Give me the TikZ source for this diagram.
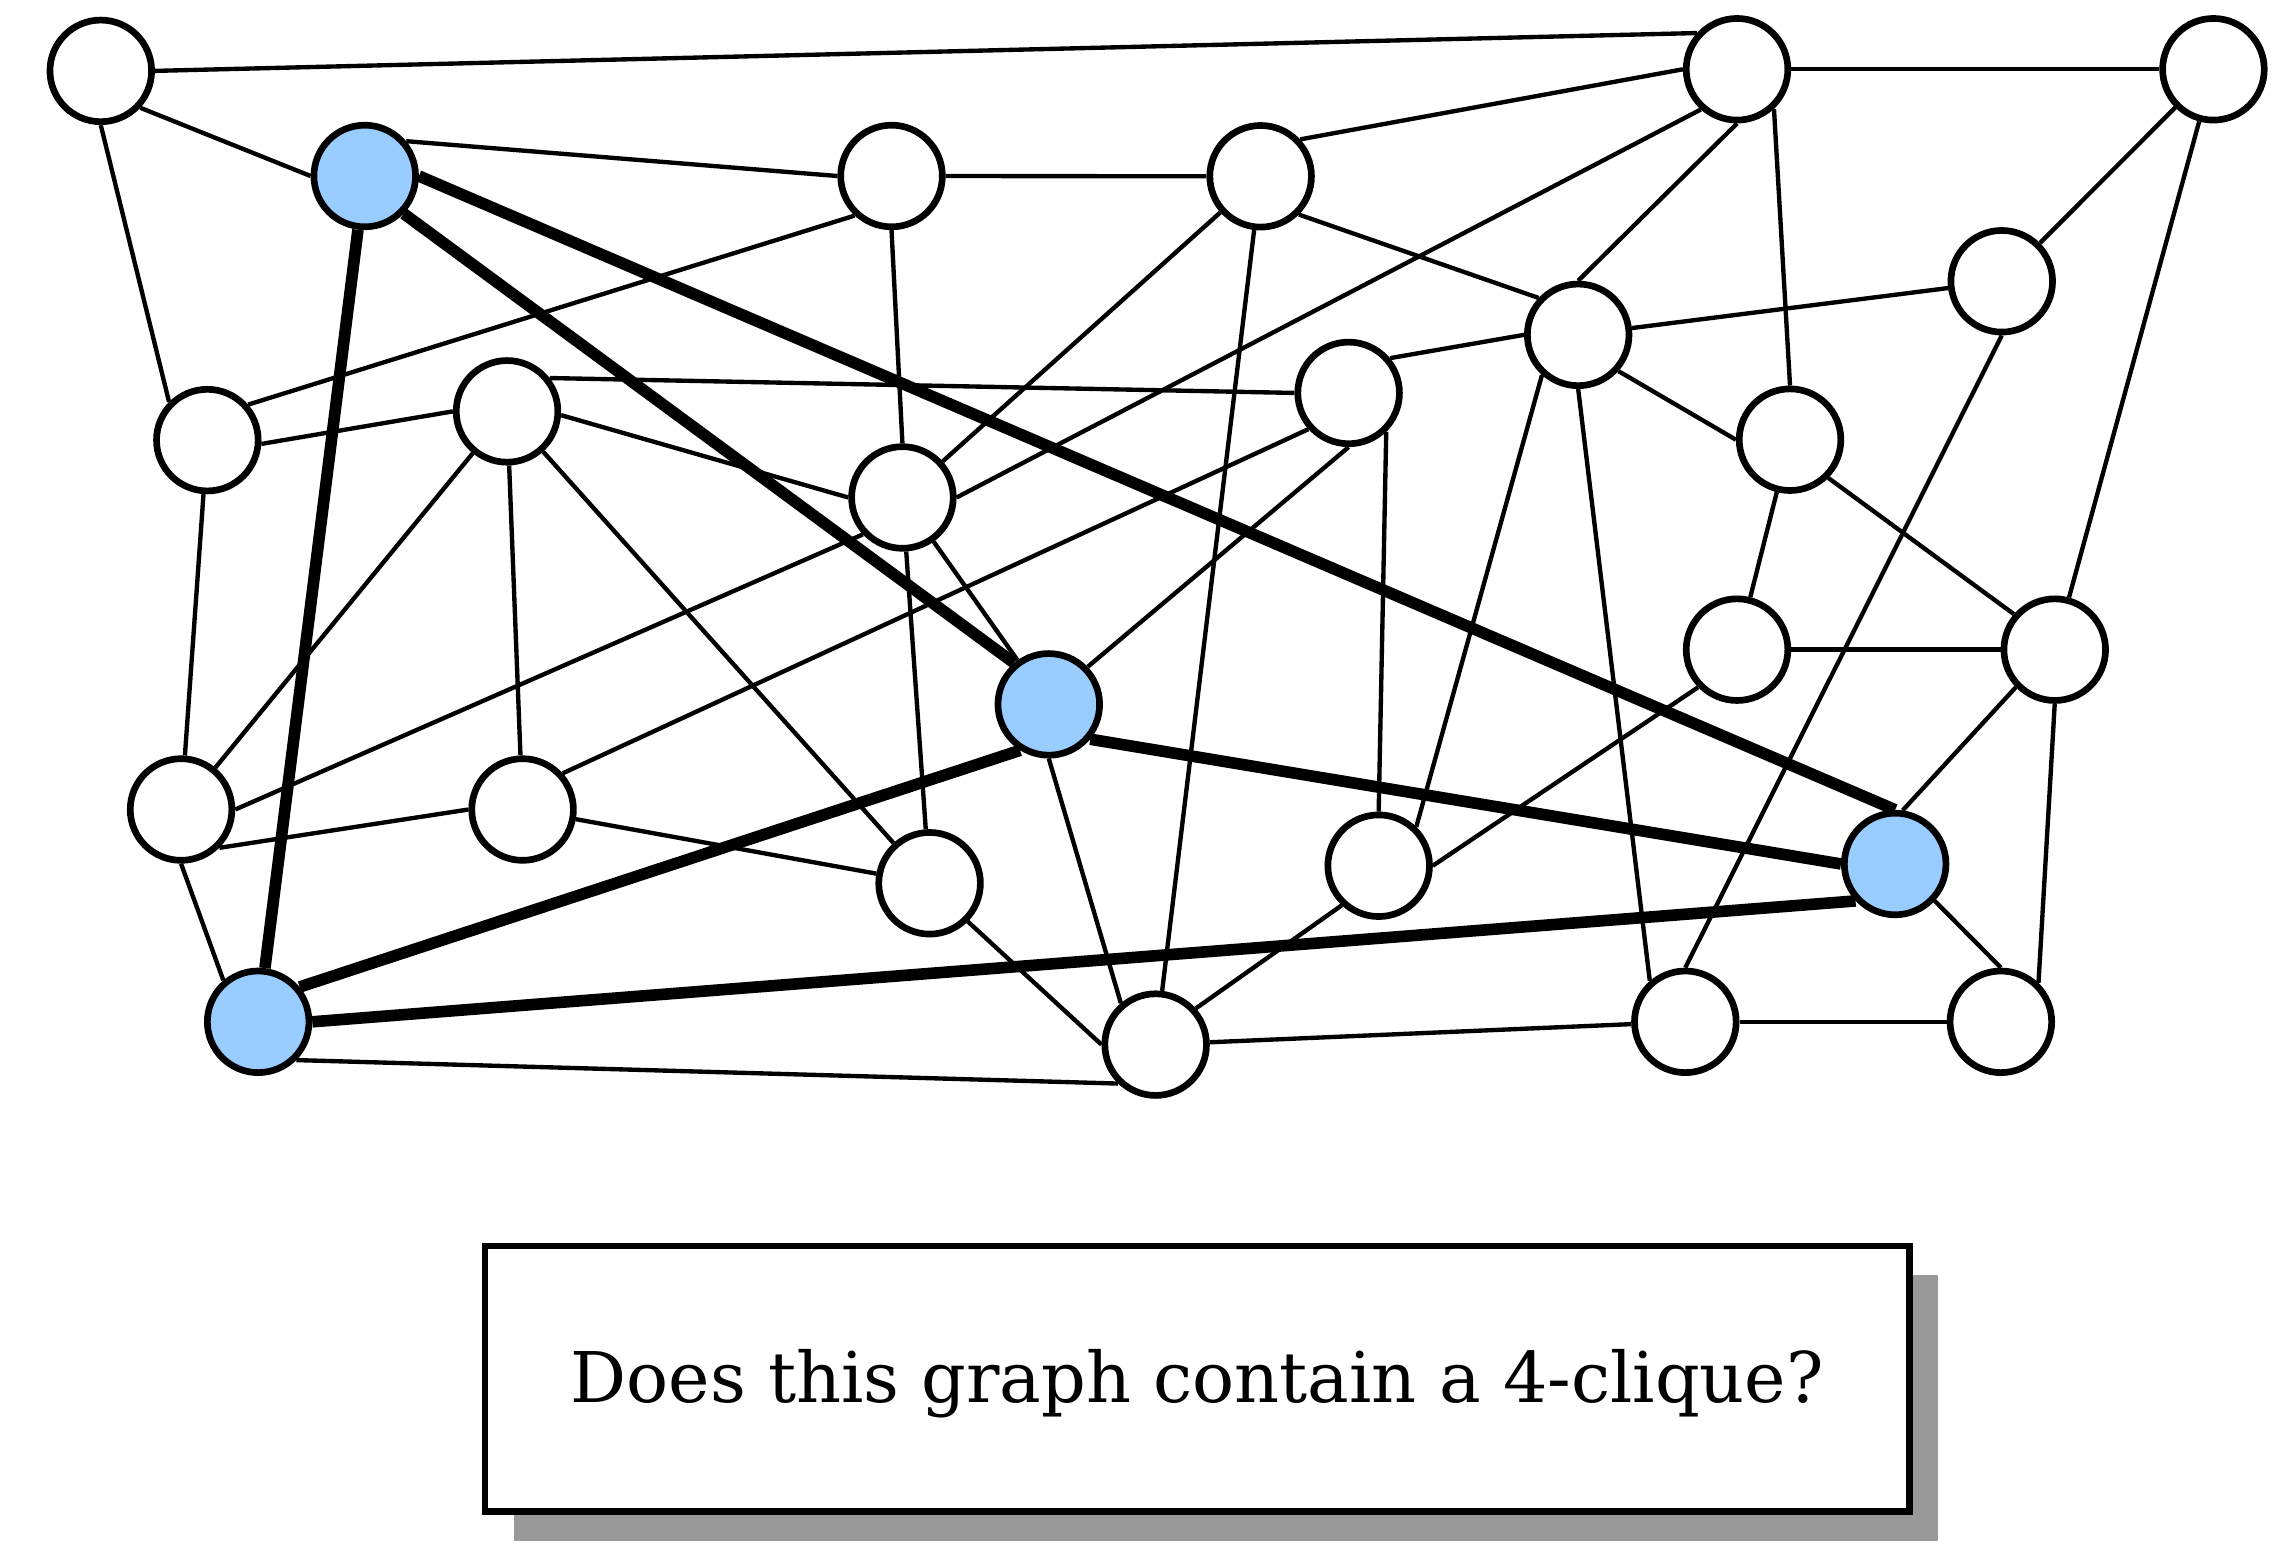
\documentclass[tikz,border=0pt]{standalone}
\usepackage{fontspec}
\setmainfont{DejaVu Serif}
\usepackage{tikz}
\usetikzlibrary{backgrounds,shadows}
\definecolor{cliqueblue}{RGB}{153,204,255}

\begin{document}
\begin{tikzpicture}[
    x=0.1mm, y=-0.1mm,
    plainnode/.style={circle, draw=black, fill=white, line width=0.46mm, minimum size=7mm, inner sep=0pt},
    cliquenode/.style={plainnode, fill=cliqueblue},
    thinedge/.style={draw=black, line width=0.3mm},
    cliqueedge/.style={draw=black, line width=0.8mm},
    questionbox/.style={draw=black, fill=white, line width=0.46mm, minimum width=98.1mm, minimum height=18.3mm, inner sep=0pt,
        font=\fontsize{13.7}{16}\selectfont, text height=3.76mm, text depth=0.48mm,
        drop shadow={fill=black!40, opacity=1, shadow xshift=2mm, shadow yshift=-2mm}}
]
\useasboundingbox (0,0) rectangle (1568.2,1070.9);

% vertices
\node[plainnode](a) at (69.4,48.8){};
\node[cliquenode](b) at (251.2,121.2){};
\node[plainnode](c) at (614.0,121.2){};
\node[plainnode](d) at (868.2,121.4){};
\node[plainnode](e) at (1196.3,47.7){};
\node[plainnode](f) at (1524.4,47.7){};
\node[plainnode](g) at (1378.6,193.7){};
\node[plainnode](h) at (1086.9,230.6){};
\node[plainnode](i) at (928.8,270.6){};
\node[plainnode](j) at (349.2,283.3){};
\node[plainnode](k) at (142.8,303.1){};
\node[plainnode](l) at (621.5,342.6){};
\node[plainnode](m) at (1232.8,302.8){};
\node[plainnode](n) at (1196.3,447.4){};
\node[plainnode](o) at (1415.1,447.4){};
\node[cliquenode](p) at (722.3,485.1){};
\node[plainnode](q) at (124.7,557.5){};
\node[plainnode](r) at (359.9,557.5){};
\node[plainnode](s) at (640.2,608.3){};
\node[plainnode](t) at (949.5,596.2){};
\node[cliquenode](u) at (1305.2,595.0){};
\node[cliquenode](v) at (177.8,703.7){};
\node[plainnode](w) at (795.9,719.4){};
\node[plainnode](x) at (1160.7,703.7){};
\node[plainnode](y) at (1378.0,703.7){};

% question
\node[questionbox](question) at (824.5,949.5){Does this graph contain a 4-clique?};

\begin{scope}[on background layer]
\fill[white] (0,0) rectangle (1568.2,1070.9);
% edges
\draw[thinedge] (a.east) -- (e.138);
\draw[thinedge] (a.-43) -- (b.west);
\draw[thinedge] (a.south) -- (k.135);
\draw[thinedge] (b.40) -- (c.west);
\draw[thinedge] (c.east) -- (d.west);
\draw[thinedge] (c.227) -- (k.41);
\draw[thinedge] (c.south) -- (l.north);
\draw[thinedge] (d.43) -- (e.west);
\draw[thinedge] (d.-45) -- (h.137);
\draw[thinedge] (d) -- (l);
\draw[thinedge] (d) -- (w);
\draw[thinedge] (e) -- (f);
\draw[thinedge] (e.south) -- (h.north);
\draw[thinedge] (e.228) -- (l.east);
\draw[thinedge] (e.-47) -- (m.north);
\draw[thinedge] (f) -- (g);
\draw[thinedge] (f) -- (o);
\draw[thinedge] (g) -- (h);
\draw[thinedge] (g.south) -- (x.north);
\draw[thinedge] (h.west) -- (i.40);
\draw[thinedge] (h.-42) -- (m.west);
\draw[thinedge] (h.228) -- (t.46);
\draw[thinedge] (h.south) -- (x.131);
\draw[thinedge] (i.west) -- (j.38);
\draw[thinedge] (i.south) -- (p.44);
\draw[thinedge] (i.222) -- (r.42);
\draw[thinedge] (i.-46) -- (t.north);
\draw[thinedge] (j.west) -- (k.-4);
\draw[thinedge] (j.-4) -- (l.west);
\draw[thinedge] (j) -- (q);
\draw[thinedge] (j) -- (r);
\draw[thinedge] (j) -- (s);
\draw[thinedge] (k) -- (q);
\draw[thinedge] (l) -- (p);
\draw[thinedge] (l.223) -- (q.east);
\draw[thinedge] (l) -- (s);
\draw[thinedge] (m) -- (n);
\draw[thinedge] (m.-45) -- (o.139);
\draw[thinedge] (n) -- (o);
\draw[thinedge] (n.224) -- (t.east);
\draw[thinedge] (o.224) -- (u.82);
\draw[thinedge] (o.south) -- (y.46);
\draw[thinedge] (p.south) -- (w.130);
\draw[thinedge] (q.-45) -- (r.west);
\draw[thinedge] (q.south) -- (v.130);
\draw[thinedge] (r) -- (s);
\draw[thinedge] (s.-45) -- (w.west);
\draw[thinedge] (t.227) -- (w.42);
\draw[thinedge] (u.-43) -- (y.north);
\draw[thinedge] (v.-45) -- (w.226);
\draw[thinedge] (w) -- (x);
\draw[thinedge] (x) -- (y);
% the clique
\draw[cliqueedge] (b) -- (v);
\draw[cliqueedge] (b.-44) -- (p.130);
\draw[cliqueedge] (b.east) -- (u.north);
\draw[cliqueedge] (p.-40) -- (u.west);
\draw[cliqueedge] (p.238) -- (v.40);
\draw[cliqueedge] (u.223) -- (v.east);
\end{scope}
\end{tikzpicture}
\end{document}
